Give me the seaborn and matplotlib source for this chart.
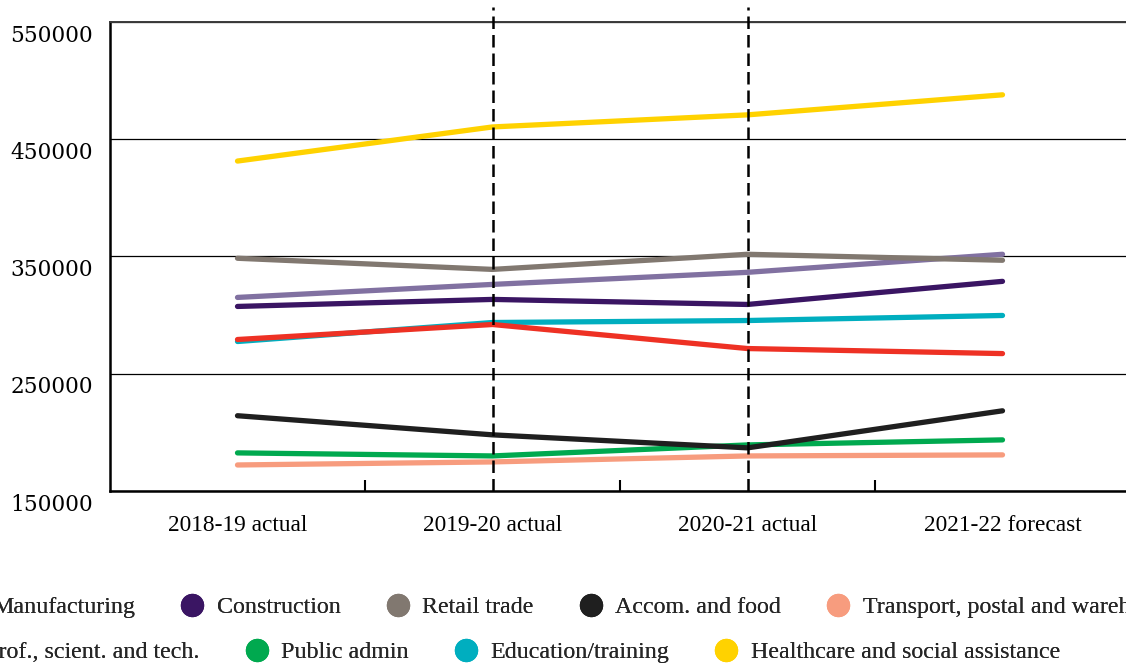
import matplotlib
matplotlib.use("Agg")
import matplotlib.pyplot as plt
import matplotlib.transforms as mtransforms
from matplotlib.lines import Line2D
import seaborn as sns
import pandas as pd

# Employment by industry, financial years
years = ["2018-19 actual", "2019-20 actual", "2020-21 actual", "2021-22 forecast"]

sectors = [
    "Manufacturing", "Construction", "Retail trade", "Accom. and food",
    "Transport, postal and warehousing", "Prof., scient. and tech.",
    "Public admin", "Education/training", "Healthcare and social assistance",
]

manufacturing = [279200, 292000, 271500, 267200]
construction = [307400, 313400, 309100, 328800]
retail_trade = [348500, 339000, 351900, 346800]
accom_food = [214200, 197900, 186800, 218400]
transport = [172200, 174800, 179900, 180800]
prof_scient = [315100, 326200, 336500, 351900]
public_admin = [182500, 179900, 189300, 193600]
education = [277500, 293700, 295400, 299700]
healthcare = [431400, 460500, 470800, 487900]

colors = [
    "#EE3124", "#3A1563", "#817870", "#1F1F1F", "#F79C7E",
    "#8171A1", "#00A94F", "#00AEBF", "#FFD200",
]

series = [manufacturing, construction, retail_trade, accom_food, transport,
          prof_scient, public_admin, education, healthcare]

df = pd.DataFrame(
    [(y, s, v) for s, vals in zip(sectors, series) for y, v in zip(years, vals)],
    columns=["year", "sector", "value"],
)
palette = dict(zip(sectors, colors))

sns.set_theme(style="white")
plt.rcParams["font.family"] = ["Liberation Serif", "DejaVu Serif"]

fig = plt.figure(figsize=(11.26, 6.66), dpi=100)
ax = fig.add_axes([110 / 1126, 1 - 491 / 666, 1020 / 1126, 469 / 666])

# First sectors in the legend sit on top, so draw them last
sns.lineplot(
    data=df, x="year", y="value", hue="sector",
    hue_order=sectors[::-1], palette=palette,
    linewidth=3.8, solid_capstyle="round", legend=False, ax=ax, sort=False,
)

ax.set_xlim(-0.5, 3.5)
ax.set_ylim(150000, 550000)
ax.set_xlabel("")
ax.set_ylabel("")

# Dashed separators between actual years
for xv in [1, 2]:
    ax.axvline(xv, ymin=0, ymax=1.031, color="black", lw=1.8,
               dashes=(5.0, 2.4), clip_on=False, zorder=5)

# Horizontal grid
ax.set_yticks([150000, 250000, 350000, 450000, 550000])
ax.yaxis.grid(True, color="black", lw=0.9)
ax.xaxis.grid(False)
ax.set_axisbelow(True)

# Spines
for side in ["left", "bottom"]:
    ax.spines[side].set_color("black")
    ax.spines[side].set_linewidth(1.8)
ax.spines["top"].set_color("#3a3a3a")
ax.spines["top"].set_linewidth(1.4)
ax.spines["right"].set_visible(False)

# Tick styling
ax.set_xticks(range(len(years)))
ax.set_xticklabels(years)
ax.set_xticks([0.5, 1.5, 2.5], minor=True)
ax.tick_params(axis="x", which="major", length=0, pad=17, colors="black",
               labelsize=16.8, labelfontfamily="Liberation Serif")
ax.tick_params(axis="x", which="minor", direction="in", length=8,
               width=1.5, color="black", bottom=True)
ax.tick_params(axis="y", length=0, pad=12, colors="black",
               labelsize=15.6, labelfontfamily="DejaVu Serif")
for lab in ax.get_yticklabels():
    lab.set_transform(lab.get_transform() +
                      mtransforms.ScaledTranslation(0, -8 / 72, fig.dpi_scale_trans))

# Legend in two left-aligned rows of dot markers
def make_handles(names):
    return [Line2D([], [], marker="o", linestyle="none", markersize=15.8,
                   markerfacecolor=palette[n], markeredgecolor=palette[n])
            for n in names]

rows = [sectors[:5], sectors[5:]]
row_y = [607, 652]
row_x = [-44, -51]
row_gap = [1.9, 1.9]
for names, yp, xp, gap in zip(rows, row_y, row_x, row_gap):
    leg = fig.legend(
        make_handles(names), names, loc="center left",
        bbox_to_anchor=(xp / 1126, 1 - yp / 666), ncol=len(names),
        frameon=False, prop={"family": "Liberation Serif", "size": 17.3},
        handlelength=0.95, handletextpad=0.55, columnspacing=gap,
        borderpad=0, borderaxespad=0,
    )
    fig.add_artist(leg)

fig.savefig("out.png", dpi=100)
